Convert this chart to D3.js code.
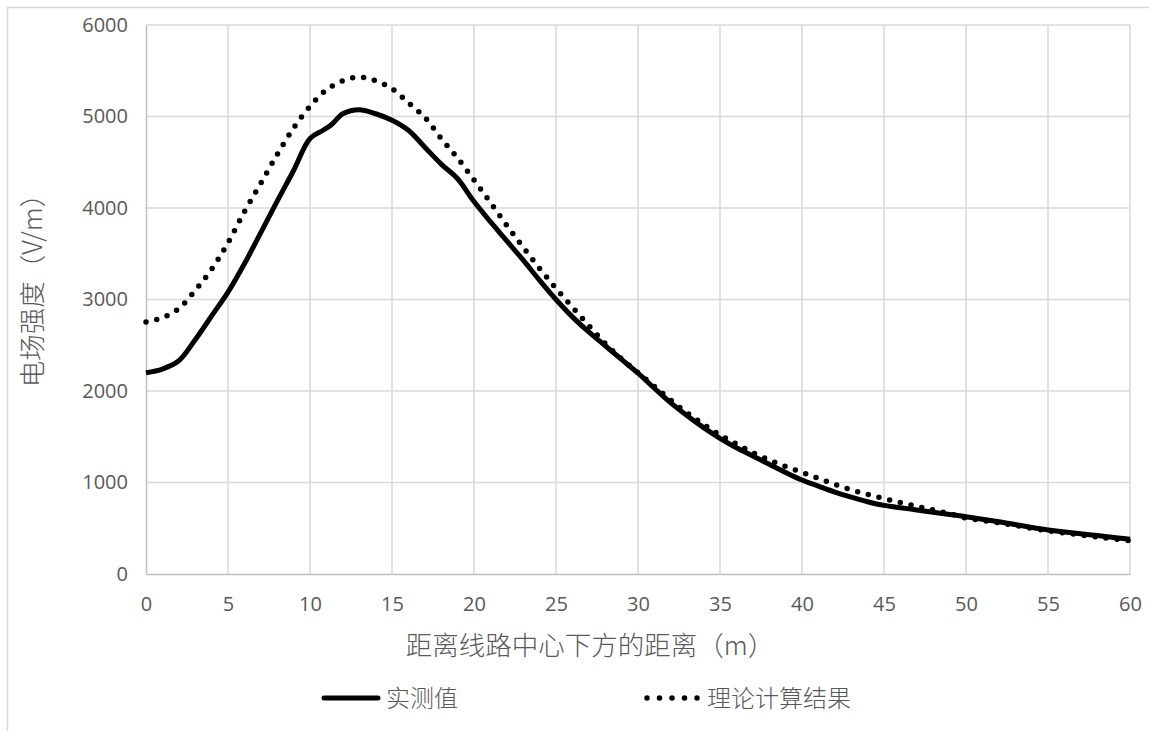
<!DOCTYPE html>
<html>
<head>
<meta charset="utf-8">
<script src="https://cdn.jsdelivr.net/npm/d3@7"></script>
<style>
  body { margin: 0; background: #fff; }
  text { font-family: "Open Sans", "Noto Sans CJK SC", sans-serif; fill: #595959; }
  .cjk { font-family: "Noto Sans CJK SC", "Open Sans", sans-serif; font-weight: 300; }
</style>
</head>
<body>
<div id="chart"></div>
<script>
var width = 1149,
	height = 731;

// 实测值
var measuredX = [0, 1, 2, 3, 4, 5, 6, 7, 8, 9, 10, 10.8, 11.3, 12, 13, 14, 15, 16, 17, 18, 19, 20,
	21, 22, 23, 24, 25, 26, 27, 28, 29, 30, 31, 32, 33, 34, 35, 36, 37, 38, 39, 40,
	41, 42, 43, 44, 45, 46, 47, 48, 49, 50, 52, 55, 58, 60];
var measuredY = [2200, 2240, 2330, 2560, 2820, 3080, 3390, 3730, 4075, 4410, 4760, 4850, 4910, 5030, 5075, 5030, 4960, 4850, 4665, 4480, 4320, 4070,
	3850, 3640, 3430, 3210, 3000, 2810, 2645, 2495, 2345, 2195, 2030, 1870, 1730, 1600, 1483, 1380, 1290, 1200, 1110, 1027,
	960, 895, 840, 790, 750, 725, 700, 675, 650, 626, 570, 481, 420, 380];

// 理论计算结果
var theoryX = [0, 1, 2, 3, 4, 5, 6, 7, 8, 9, 10, 11, 12, 13, 14, 15, 16, 17, 18, 19, 20,
	21, 22, 23, 24, 25, 26, 27, 28, 29, 30, 31, 32, 33, 34, 35, 36, 37, 38, 39, 40,
	41, 42, 43, 44, 45, 46, 47, 48, 49, 50, 52, 55, 58, 60];
var theoryY = [2755, 2800, 2900, 3100, 3330, 3620, 3960, 4270, 4585, 4875, 5110, 5290, 5390, 5430, 5390, 5305, 5150, 4990, 4760, 4545, 4306,
	4060, 3810, 3570, 3340, 3122, 2915, 2715, 2521, 2350, 2200, 2050, 1900, 1760, 1635, 1519, 1420, 1325, 1245, 1175, 1111,
	1045, 980, 920, 870, 825, 780, 740, 700, 660, 612, 560, 472, 405, 365];

var xTicks = [0, 5, 10, 15, 20, 25, 30, 35, 40, 45, 50, 55, 60];
var yTicks = [0, 1000, 2000, 3000, 4000, 5000, 6000];

var seriesNames = ["实测值", "理论计算结果"];
var xTitle = "距离线路中心下方的距离（m）";
var yTitle = "电场强度（V/m）";

var svg = d3.select("#chart")
	.append("svg")
		.attr("width", width)
		.attr("height", height);

// outer chart border
svg.append("rect")
	.attr("x", 7.5).attr("y", 7.5)
	.attr("width", 1160).attr("height", 760)
	.attr("fill", "none")
	.attr("stroke", "#d9d9d9")
	.attr("stroke-width", 1.5);

var x = d3.scaleLinear().domain([0, 60]).range([146, 1130]);
var y = d3.scaleLinear().domain([0, 6000]).range([574, 25]);

// gridlines
svg.append("g")
	.selectAll("line.vgrid")
	.data(xTicks.slice(1))
	.enter().append("line")
		.attr("x1", function(d){ return x(d); })
		.attr("x2", function(d){ return x(d); })
		.attr("y1", y(0)).attr("y2", y(6000))
		.attr("stroke", "#d9d9d9").attr("stroke-width", 1.5);

svg.append("g")
	.selectAll("line.hgrid")
	.data(yTicks.slice(1))
	.enter().append("line")
		.attr("x1", x(0)).attr("x2", x(60))
		.attr("y1", function(d){ return y(d); })
		.attr("y2", function(d){ return y(d); })
		.attr("stroke", "#d9d9d9").attr("stroke-width", 1.5);

// axes
var xAxis = svg.append("g")
	.attr("transform", "translate(0," + y(0) + ")")
	.call(d3.axisBottom(x).tickValues(xTicks).tickSize(0).tickPadding(23));
var yAxis = svg.append("g")
	.attr("transform", "translate(" + x(0) + ",0)")
	.call(d3.axisLeft(y).tickValues(yTicks).tickSize(0).tickPadding(18).tickFormat(d3.format("d")));

[xAxis, yAxis].forEach(function(a){
	a.select(".domain").attr("stroke", "#bfbfbf").attr("stroke-width", 1.5);
	a.selectAll("text")
		.style("font-size", "20px")
		.attr("fill", "#595959");
});

// series
var line = d3.line()
	.x(function(d){ return x(d[0]); })
	.y(function(d){ return y(d[1]); })
	.curve(d3.curveCatmullRom.alpha(0.5));

var measured = d3.zip(measuredX, measuredY);
var theory = d3.zip(theoryX, theoryY);

svg.append("path")
	.datum(theory)
	.attr("d", line)
	.attr("fill", "none")
	.attr("stroke", "#000")
	.attr("stroke-width", 5.5)
	.attr("stroke-linecap", "round")
	.attr("stroke-dasharray", "0 11");

svg.append("path")
	.datum(measured)
	.attr("d", line)
	.attr("fill", "none")
	.attr("stroke", "#000")
	.attr("stroke-width", 5)
	.attr("stroke-linejoin", "round");

// axis titles
svg.append("text")
	.attr("class", "cjk")
	.attr("x", 590).attr("y", 655)
	.attr("text-anchor", "middle")
	.style("font-size", "26.5px")
	.text(xTitle);

svg.append("text")
	.attr("class", "cjk")
	.attr("transform", "translate(42,284) rotate(-90)")
	.attr("text-anchor", "middle")
	.style("font-size", "26.5px")
	.text(yTitle);

// legend
var legendY = 698;
svg.append("line")
	.attr("x1", 324).attr("x2", 378)
	.attr("y1", legendY).attr("y2", legendY)
	.attr("stroke", "#000").attr("stroke-width", 5)
	.attr("stroke-linecap", "round");
svg.append("text")
	.attr("class", "cjk")
	.attr("x", 386).attr("y", legendY + 9)
	.style("font-size", "24px")
	.text(seriesNames[0]);

svg.append("line")
	.attr("x1", 647).attr("x2", 700)
	.attr("y1", legendY).attr("y2", legendY)
	.attr("stroke", "#000").attr("stroke-width", 5.5)
	.attr("stroke-linecap", "round")
	.attr("stroke-dasharray", "0 12.5");
svg.append("text")
	.attr("class", "cjk")
	.attr("x", 707).attr("y", legendY + 9)
	.style("font-size", "24px")
	.text(seriesNames[1]);
</script>
</body>
</html>
